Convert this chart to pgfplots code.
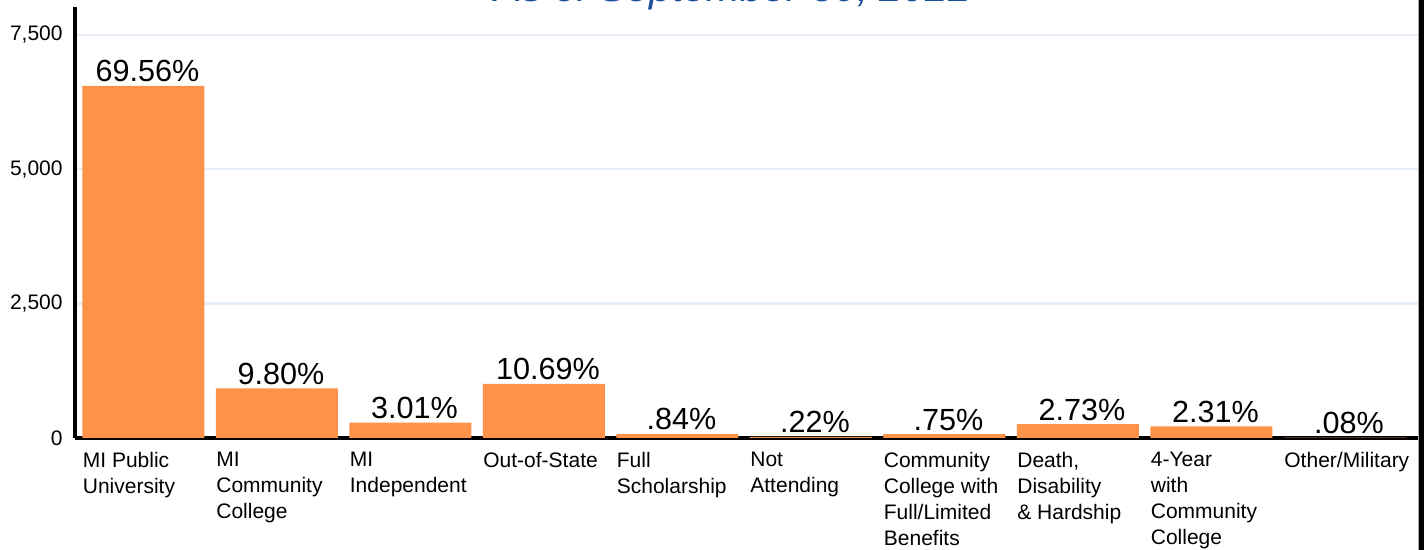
\documentclass[border=0pt]{standalone}
\usepackage{fontspec}
\setmainfont{Liberation Sans}
\usepackage{pgfplots}
\pgfplotsset{compat=1.18}
\definecolor{barorange}{RGB}{254,146,72}
\definecolor{gridblue}{RGB}{228,237,248}
\definecolor{titleblue}{RGB}{28,80,156}
\begin{document}
\begin{tikzpicture}
\useasboundingbox (-37.5pt,-56pt) rectangle (676pt,219pt);
\begin{axis}[
  at={(0,0)}, anchor=south west,
  scale only axis, width=671.5pt, height=215.5pt,
  xmin=-0.513, xmax=9.547, ymin=0, ymax=8020,
  ybar, bar width=61pt,
  axis lines*=left,
  axis line style={-, line width=2pt, black},
  ymajorgrids, major grid style={gridblue, line width=1.2pt},
  major tick length=0pt,
  ytick={0,2500,5000,7500},
  scaled y ticks=false,
  yticklabel style={font=\fontsize{10.5}{12.75}\selectfont, anchor=east, inner sep=0pt, xshift=-6pt,
    /pgf/number format/1000 sep={,}, /pgf/number format/assume math mode=true},
  xtick=data,
  xticklabels={{MI Public\\University},{MI\\Community\\College},{MI\\Independent},{Out-of-State},{Full\\Scholarship},{Not\\Attending},{Community\\College with\\Full/Limited\\Benefits},{Death,\\Disability\\\& Hardship},{4-Year\\with\\Community\\College},{Other/Military}},
  xticklabel style={font=\fontsize{10.5}{13}\selectfont, anchor=north west, align=left, inner sep=0pt, xshift=-30.5pt, yshift=-7pt},
  nodes near coords,
  point meta=explicit symbolic,
  every node near coord/.append style={font=\fontsize{15.3}{18}\selectfont, anchor=base, inner sep=0pt, yshift=2pt, xshift=2pt, black},
  clip=false,
]
\addplot[fill=barorange, draw=none] coordinates {
  (0,6552) [69.56\%]
  (1,923) [9.80\%]
  (2,284) [3.01\%]
  (3,1007) [10.69\%]
  (4,79) [.84\%]
  (5,21) [.22\%]
  (6,71) [.75\%]
  (7,257) [2.73\%]
  (8,218) [2.31\%]
  (9,8) [.08\%]
};
\end{axis}
\begin{scope}
\clip (-37.5pt,-56pt) rectangle (676pt,219pt);
\node[anchor=base, inner sep=0pt, text=titleblue, font=\fontsize{20.5}{24}\selectfont\itshape] at (329pt,218pt) {As of September 30, 2022};
\end{scope}
\fill[gray!70] (671.5pt,-56pt) rectangle (672pt,219pt);
\fill[black] (672pt,-56pt) rectangle (674.5pt,219pt);
\end{tikzpicture}
\end{document}
